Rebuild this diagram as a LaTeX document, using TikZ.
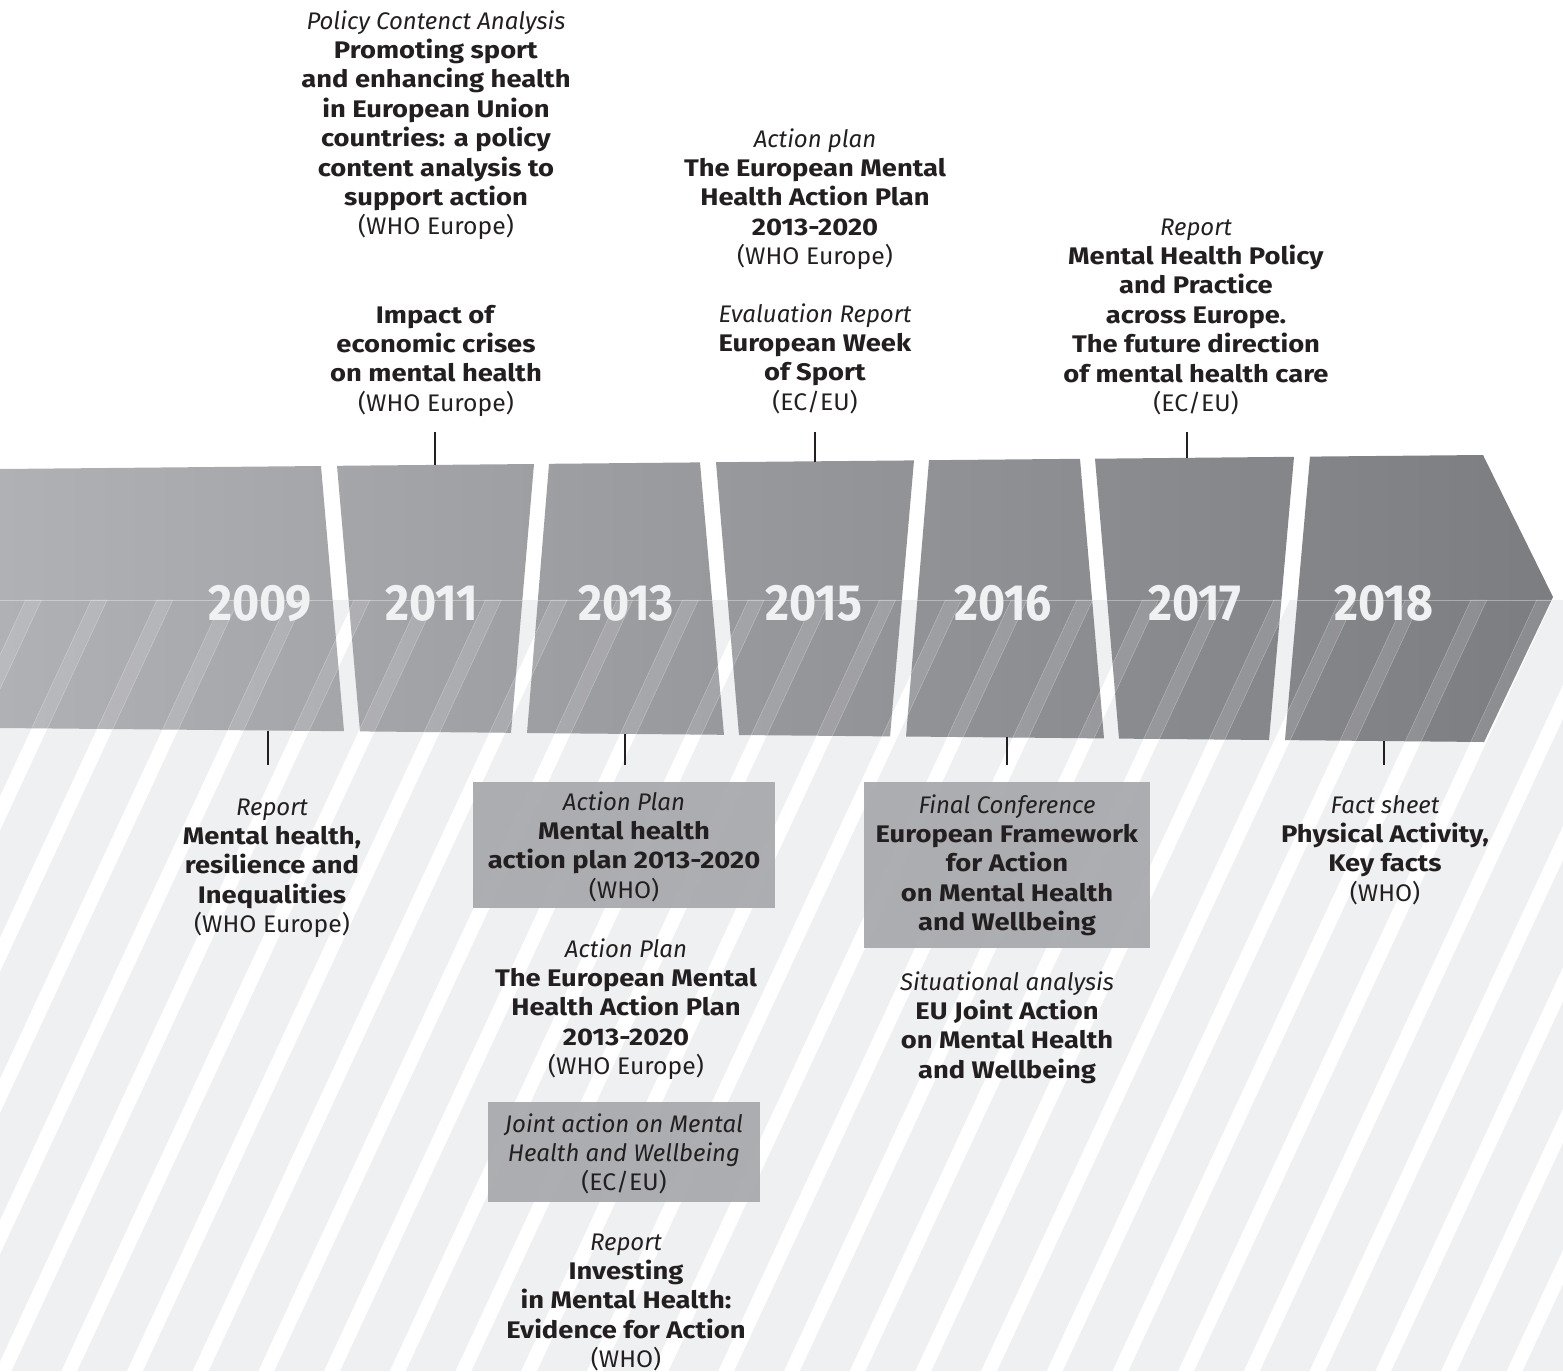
\documentclass[tikz,border=0pt]{standalone}
\usepackage{fontspec}
\setmainfont{Fira Sans}[UprightFeatures={FakeStretch=1.03}, BoldFeatures={FakeStretch=1.14}]
\newfontfamily\yearfont{Fira Sans}[FakeStretch=0.91]
\definecolor{ink}{RGB}{35,31,32}
\definecolor{bgl}{RGB}{239,240,242}
\definecolor{bandL}{RGB}{176,177,181}
\definecolor{bandR}{RGB}{124,125,129}
\definecolor{boxc}{RGB}{167,168,172}
\definecolor{yearc}{RGB}{240,241,242}
\def\bandpath{(0,469) -- (321,466) -- (344,731.2) -- (0,728) -- cycle
 (337,465.8) -- (534,464) -- (511,732.8) -- (360,731.4) -- cycle
 (549,463.8) -- (700,462.4) -- (724,734.8) -- (527,733) -- cycle
 (716,462.2) -- (914,460.4) -- (890,736.4) -- (739,735) -- cycle
 (929,460.2) -- (1080,458.8) -- (1104,738.4) -- (906,736.5) -- cycle
 (1095,458.7) -- (1294,456.8) -- (1269,740) -- (1119,738.6) -- cycle
 (1310,456.6) -- (1483,455) -- (1553,597) -- (1484,742) -- (1285,740.1) -- cycle}
\begin{document}
\begin{tikzpicture}[x=1pt,y=-1pt,
  txt/.style={font=\fontsize{24}{29.4}\selectfont, align=center, anchor=base, inner sep=0pt, text=ink},
  year/.style={font=\yearfont\fontsize{51}{51}\selectfont\bfseries, text=yearc, anchor=base, inner sep=0pt},
  boxst/.style={fill=boxc, fill opacity=0.92, inner sep=0pt, draw=none},
  tick/.style={draw=ink, line width=1.3pt}]
\useasboundingbox (0,0) rectangle (1563,1371);
% light striped background
\begin{scope}
  \clip (0,600) rectangle (1563,1371);
  \fill[bgl] (0,600) rectangle (1563,1371);
  \foreach \k in {0,...,30} {
    \pgfmathsetmacro\xt{25.6+65.7*\k}
    \fill[white] (\xt,600) -- ++(15.8,0) -- ++(-358.5,771) -- ++(-15.8,0) -- cycle;
  }
\end{scope}
% band
\shade[left color=bandL, right color=bandR] \bandpath;
\begin{scope}
  \clip \bandpath;
  \foreach \k in {0,...,30} {
    \pgfmathsetmacro\xt{25.6+65.7*\k}
    \filldraw[fill=white, fill opacity=0.12, draw=white, draw opacity=0.35, line width=0.4pt]
      (\xt,600) -- ++(15.8,0) -- ++(-358.5,771) -- ++(-15.8,0) -- cycle;
  }
  \draw[white, opacity=0.35, line width=0.4pt] (0,600) -- (1563,600);
\end{scope}
% years
\node[year] (y2009) at (260,620) {2009};
\node[year] (y2011) at (432,620) {2011};
\node[year] (y2013) at (626,620) {2013};
\node[year] (y2015) at (814,620) {2015};
\node[year] (y2016) at (1003,620) {2016};
\node[year] (y2017) at (1195,620) {2017};
\node[year] (y2018) at (1384,620) {2018};
% boxes
\node[boxst, minimum width=302pt, minimum height=126pt] (boxG) at (624,845) {};
\node[boxst, minimum width=272pt, minimum height=100pt] (boxI) at (624,1152) {};
\node[boxst, minimum width=286pt, minimum height=166pt] (boxK) at (1007,865) {};
% texts above (anchor = baseline of last line)
\node[txt] (A) at (436,234.8) {\textit{Policy Contenct Analysis}\\ \textbf{Promoting sport}\\ \textbf{and enhancing health}\\ \textbf{in European Union}\\ \textbf{countries: a policy}\\ \textbf{content analysis to}\\ \textbf{support action}\\ (WHO Europe)};
\node[txt] (B) at (436,411.2) {\textbf{Impact of}\\ \textbf{economic crises}\\ \textbf{on mental health}\\ (WHO Europe)};
\node[txt] (C) at (815,264.6) {\textit{Action plan}\\ \textbf{The European Mental}\\ \textbf{Health Action Plan}\\ \textbf{2013-2020}\\ (WHO Europe)};
\node[txt] (D) at (815,410.2) {\textit{Evaluation Report}\\ \textbf{European Week}\\ \textbf{of Sport}\\ (EC/EU)};
\node[txt] (E) at (1196,411.4) {\textit{Report}\\ \textbf{Mental Health Policy}\\ \textbf{and Practice}\\ \textbf{across Europe.}\\ \textbf{The future direction}\\ \textbf{of mental health care}\\ (EC/EU)};
% texts below
\node[txt] (F) at (272,932.6) {\textit{Report}\\ \textbf{Mental health,}\\ \textbf{resilience and}\\ \textbf{Inequalities}\\ (WHO Europe)};
\node[txt] (G) at (624,898.2) {\textit{Action Plan}\\ \textbf{Mental health}\\ \textbf{action plan 2013-2020}\\ (WHO)};
\node[txt] (H) at (626,1074.6) {\textit{Action Plan}\\ \textbf{The European Mental}\\ \textbf{Health Action Plan}\\ \textbf{2013-2020}\\ (WHO Europe)};
\node[txt] (I) at (624,1190.8) {\textit{Joint action on Mental}\\ \textit{Health and Wellbeing}\\ (EC/EU)};
\node[txt] (J) at (626,1367.6) {\textit{Report}\\ \textbf{Investing}\\ \textbf{in Mental Health:}\\ \textbf{Evidence for Action}\\ (WHO)};
\node[txt] (K) at (1007,930.6) {\textit{Final Conference}\\ \textbf{European Framework}\\ \textbf{for Action}\\ \textbf{on Mental Health}\\ \textbf{and Wellbeing}};
\node[txt] (L) at (1007,1078.2) {\textit{Situational analysis}\\ \textbf{EU Joint Action}\\ \textbf{on Mental Health}\\ \textbf{and Wellbeing}};
\node[txt] (M) at (1385,901.2) {\textit{Fact sheet}\\ \textbf{Physical Activity,}\\ \textbf{Key facts}\\ (WHO)};
% ticks
\coordinate (t11a) at (435,432); \coordinate (t11b) at (435,465);
\coordinate (t15a) at (815,432); \coordinate (t15b) at (815,462);
\coordinate (t17a) at (1187,432); \coordinate (t17b) at (1187,458);
\coordinate (t09a) at (268,731); \coordinate (t09b) at (268,765);
\coordinate (t13a) at (625,734); \coordinate (t13b) at (625,765);
\coordinate (t16a) at (1007,737); \coordinate (t16b) at (1007,765);
\coordinate (t18a) at (1384,741); \coordinate (t18b) at (1384,765);
\draw[tick] (t11a) -- (t11b);
\draw[tick] (t15a) -- (t15b);
\draw[tick] (t17a) -- (t17b);
\draw[tick] (t09a) -- (t09b);
\draw[tick] (t13a) -- (t13b);
\draw[tick] (t16a) -- (t16b);
\draw[tick] (t18a) -- (t18b);
\end{tikzpicture}
\end{document}
